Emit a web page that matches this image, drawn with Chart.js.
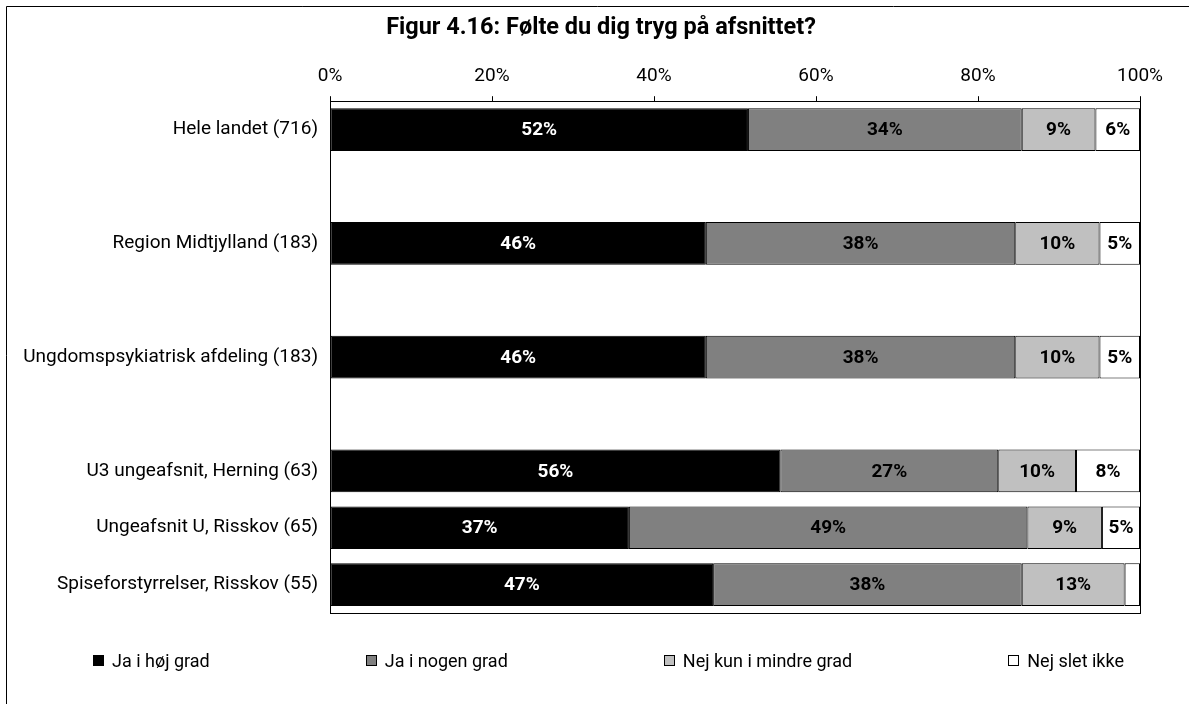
<!DOCTYPE html>
<html>
<head>
<meta charset="utf-8">
<script src="https://cdn.jsdelivr.net/npm/chart.js@4.4.1/dist/chart.umd.min.js"></script>
<style>
  html, body { margin: 0; padding: 0; background: #fff; overflow: hidden; }
  #wrap { position: relative; width: 1189px; height: 704px; }
  #legend { position: absolute; left: 0; top: 650px; width: 1217px; display: flex; justify-content: center; gap: 156px; font: 18px Roboto, sans-serif; color: #000; }
  .item { display: flex; align-items: center; white-space: nowrap; }
  .box { width: 9px; height: 9px; border: 1px solid #000; margin-right: 8px; }
</style>
</head>
<body>
<div id="wrap">
  <canvas id="chart" width="1189" height="704"></canvas>
  <div id="legend"></div>
</div>
<script>
// Categories (empty labels are the spacer rows)
const categories = [
    'Hele landet (716)', '',
    'Region Midtjylland (183)', '',
    'Ungdomspsykiatrisk afdeling (183)', '',
    'U3 ungeafsnit, Herning (63)',
    'Ungeafsnit U, Risskov (65)',
    'Spiseforstyrrelser, Risskov (55)',
];
const seriesNames = ['Ja i høj grad', 'Ja i nogen grad', 'Nej kun i mindre grad', 'Nej slet ikke'];

// Shares in percent
const jaHoejGrad   = [51.6, null, 46.4, null, 46.4, null, 55.6, 36.9, 47.3];
const jaNogenGrad  = [33.8, null, 38.2, null, 38.2, null, 26.9, 49.2, 38.1];
const nejMindre    = [9.1,  null, 10.4, null, 10.4, null, 9.6,  9.2,  12.7];
const nejSletIkke  = [5.5,  null, 5.0,  null, 5.0,  null, 7.9,  4.7,  1.9];

const xTicks = [0, 20, 40, 60, 80, 100];

const fills = ['#000000', '#808080', '#c0c0c0', '#ffffff'];
const labelColors = ['#ffffff', '#000000', '#000000', '#000000'];
const fontFamily = 'Roboto, "DejaVu Sans", sans-serif';

// Frame round the picture and box round the plot area
const framePlugin = {
    id: 'frame',
    afterLayout(chart) {
        // title sits a little right of the canvas centre in the original
        if (chart.titleBlock) chart.titleBlock.left += 54;
    },
    beforeDraw(chart) {
        const ctx = chart.ctx;
        ctx.save();
        ctx.fillStyle = '#fff';
        ctx.fillRect(0, 0, chart.width, chart.height);
        ctx.strokeStyle = '#000';
        ctx.lineWidth = 1;
        ctx.beginPath();
        ctx.moveTo(6.5, chart.height);
        ctx.lineTo(6.5, 6.5);
        ctx.lineTo(chart.width, 6.5);
        ctx.stroke();
        ctx.restore();
    },
    afterDatasetsDraw(chart) {
        const { left, top, right, bottom } = chart.chartArea;
        const ctx = chart.ctx;
        ctx.save();
        ctx.strokeStyle = '#000';
        ctx.lineWidth = 1;
        ctx.strokeRect(Math.round(left) + 0.5, Math.round(top) + 0.5,
            Math.round(right - left), Math.round(bottom - top));
        ctx.restore();
    },
};

// Percent labels inside the segments
const valueLabels = {
    id: 'valueLabels',
    afterDraw(chart) {
        const ctx = chart.ctx;
        ctx.save();
        ctx.font = `bold 19px ${fontFamily}`;
        ctx.textAlign = 'center';
        ctx.textBaseline = 'middle';
        chart.data.datasets.forEach((ds, i) => {
            const meta = chart.getDatasetMeta(i);
            meta.data.forEach((bar, j) => {
                const v = ds.data[j];
                if (v == null || v < 3) return;
                ctx.fillStyle = labelColors[i];
                ctx.fillText(Math.round(v) + '%', (bar.x + bar.base) / 2, bar.y + 1);
            });
        });
        ctx.restore();
    },
};

const seriesValues = [jaHoejGrad, jaNogenGrad, nejMindre, nejSletIkke];

const chart = new Chart(document.getElementById('chart'), {
    type: 'bar',
    data: {
        labels: categories,
        datasets: seriesValues.map((values, i) => ({
            label: seriesNames[i],
            data: values,
            backgroundColor: fills[i],
            borderColor: '#000',
            borderWidth: 1,
            borderSkipped: false,
            categoryPercentage: 1,
            barPercentage: 0.75,
        })),
    },
    options: {
        indexAxis: 'y',
        responsive: false,
        animation: false,
        devicePixelRatio: 1,
        layout: { padding: { top: 10, left: 8, right: 49, bottom: 91 } },
        plugins: {
            legend: { display: false },
            tooltip: { enabled: false },
            title: {
                display: true,
                text: 'Figur 4.16: Følte du dig tryg på afsnittet?',
                color: '#000',
                font: { family: fontFamily, size: 23.5, weight: 'bold' },
                padding: { top: 4, bottom: 10 },
            },
        },
        scales: {
            x: {
                position: 'top',
                stacked: true,
                min: 0,
                max: 100,
                afterBuildTicks: s => { s.ticks = xTicks.map(v => ({ value: v })); },
                afterFit: s => { s.height = 49; },
                grid: { drawOnChartArea: false, drawTicks: true, tickLength: 5, color: '#000' },
                border: { display: true, color: '#000' },
                ticks: {
                    color: '#000',
                    padding: 9,
                    font: { family: fontFamily, size: 19 },
                    callback: v => v + '%',
                },
            },
            y: {
                stacked: true,
                afterFit: s => { s.width = 322; },
                grid: { display: false, drawTicks: false },
                border: { display: true, color: '#000' },
                ticks: {
                    color: '#000',
                    padding: 12,
                    autoSkip: false,
                    font: { family: fontFamily, size: 19 },
                },
            },
        },
    },
    plugins: [framePlugin, valueLabels],
});

// Legend as HTML, built from the chart's datasets
const legend = document.getElementById('legend');
chart.data.datasets.forEach(ds => {
    const item = document.createElement('div');
    item.className = 'item';
    const box = document.createElement('span');
    box.className = 'box';
    box.style.background = ds.backgroundColor;
    const txt = document.createElement('span');
    txt.textContent = ds.label;
    item.appendChild(box);
    item.appendChild(txt);
    legend.appendChild(item);
});
</script>
</body>
</html>
